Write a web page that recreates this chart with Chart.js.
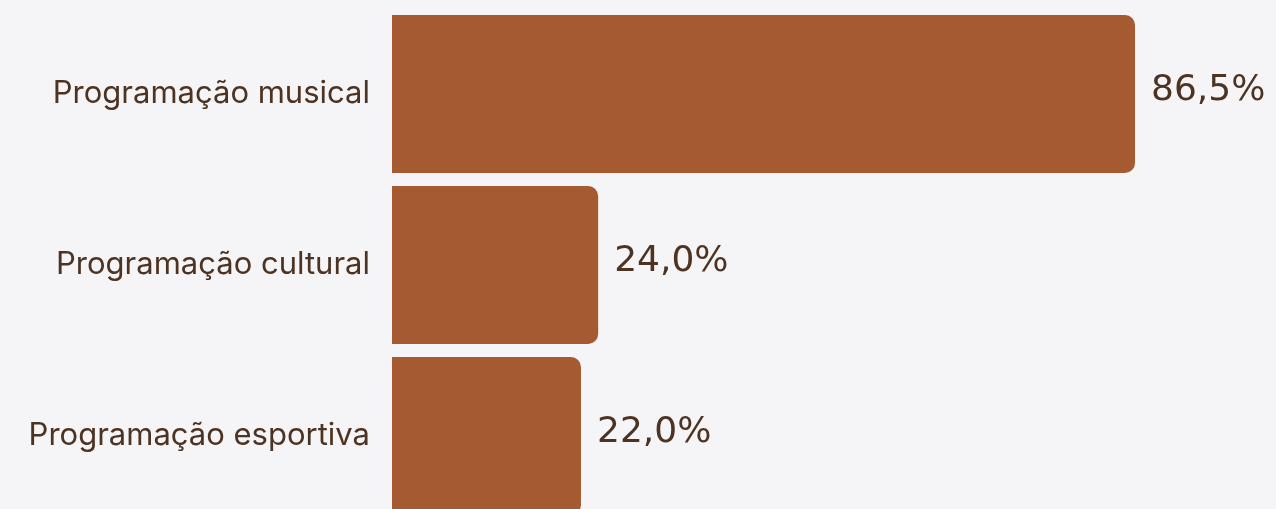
<!DOCTYPE html>
<html>
<head>
<meta charset="utf-8">
<script src="https://cdn.jsdelivr.net/npm/chart.js@4"></script>
<style>
    html, body { margin: 0; padding: 0; background: #f5f5f7; overflow: hidden; }
    #box { width: 1276px; height: 530px; }
</style>
</head>
<body>
<div id="box"><canvas id="grafico"></canvas></div>
<script>
// Dados
const categorias = ['Programação musical', 'Programação cultural', 'Programação esportiva'];
const valores = [86.5, 24.0, 22.0];

const corBarra = '#a65a31';
const corTexto = '#4d3322';

// Rótulos de valor ao lado das barras
const rotulosValor = {
    id: 'rotulosValor',
    afterDatasetsDraw(chart) {
        const ctx = chart.ctx;
        const meta = chart.getDatasetMeta(0);
        ctx.save();
        ctx.fillStyle = corTexto;
        ctx.font = '36px "DejaVu Sans"';
        ctx.textAlign = 'left';
        ctx.textBaseline = 'middle';
        meta.data.forEach((bar, i) => {
            const texto = valores[i].toFixed(1).replace('.', ',') + '%';
            ctx.fillText(texto, bar.x + 16, bar.y - 3);
        });
        ctx.restore();
    }
};

const ctx = document.getElementById('grafico').getContext('2d');
new Chart(ctx, {
    type: 'bar',
    data: {
        labels: categorias,
        datasets: [{
            data: valores,
            backgroundColor: corBarra,
            borderRadius: 10,
            barPercentage: 0.924,
            categoryPercentage: 1,
        }]
    },
    options: {
        indexAxis: 'y',
        responsive: true,
        maintainAspectRatio: false,
        animation: false,
        events: [],
        layout: { padding: { top: 8.5, bottom: 8.5, right: 25, left: 0 } },
        plugins: {
            legend: { display: false },
            tooltip: { enabled: false },
        },
        scales: {
            x: {
                display: false,
                min: 0,
                max: 100,
            },
            y: {
                grid: { display: false, drawTicks: false },
                border: { display: false },
                afterFit(scale) {
                    scale.width = 392;
                    scale.paddingTop = 0;
                    scale.paddingBottom = 0;
                },
                ticks: {
                    color: corTexto,
                    padding: 22,
                    font: { family: 'Inter, "Liberation Sans", sans-serif', size: 31 },
                },
            },
        },
    },
    plugins: [rotulosValor],
});
</script>
</body>
</html>
